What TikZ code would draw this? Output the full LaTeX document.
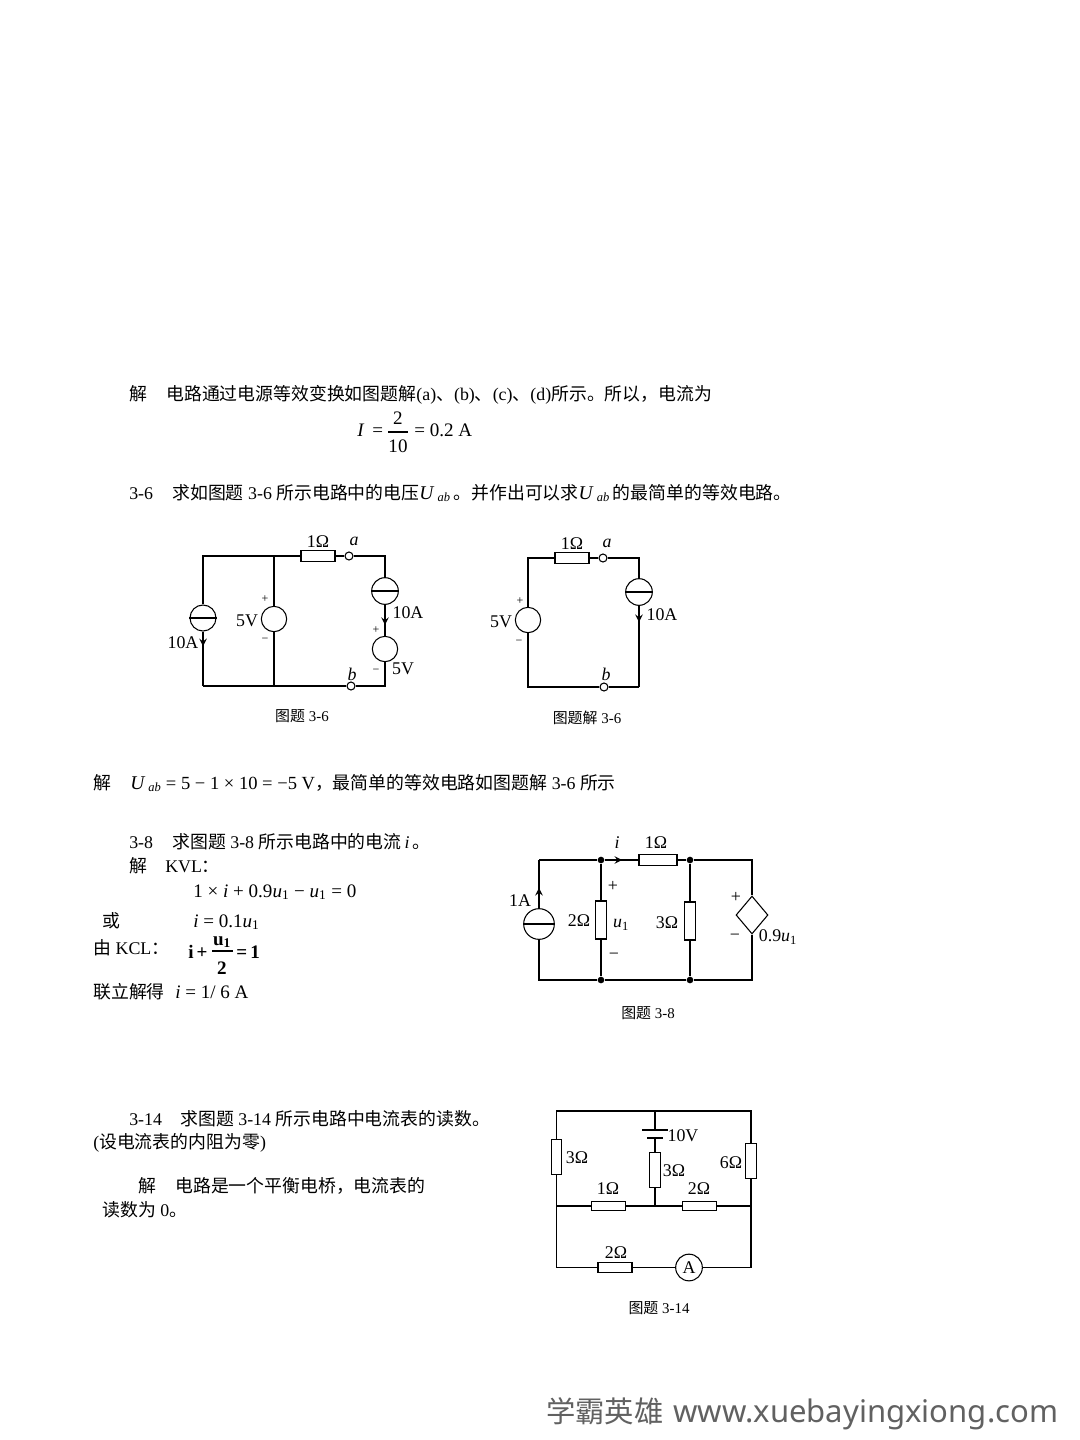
\documentclass[tikz,border=0pt]{standalone}
\usepackage{fontspec}
\setmainfont{Liberation Serif}
\newfontfamily\cjk{Noto Sans CJK SC}
\newfontfamily\wmfont{Noto Sans}
\usetikzlibrary{decorations.markings}
\usetikzlibrary{shapes.geometric}
\newcommand{\zh}[1]{{\cjk #1}}
\newcommand{\usub}{\textit{u}\textsubscript{1}}
\newcommand{\uab}{{\fontsize{14.6}{16}\selectfont\textit{U}}\,\textsubscript{\textit{ab}}}
\newcommand{\fsz}{\fontsize{13.4}{16}\selectfont}
\newcommand{\eqsz}{\fontsize{14.3}{16}\selectfont}
\tikzset{
	wire/.style={line width=0.8pt},
	wirearrow/.style={wire, postaction={decorate},
		decoration={markings, mark=at position #1 with {\arrow[scale=1.4]{>}}}},
	txt/.style={anchor=base west, inner sep=0pt, font=\fsz},
	eqn/.style={anchor=base west, inner sep=0pt, font=\eqsz},
	lbl/.style={inner sep=0pt, font=\fsz},
	figcap/.style={inner sep=0pt, font=\fontsize{11.2}{14}\selectfont},
	tinylbl/.style={inner sep=0pt, font=\fontsize{9}{9}\selectfont},
	resh/.style={draw, wire, rectangle, inner sep=0pt, minimum width=25.5pt, minimum height=8pt},
	resv/.style={draw, wire, rectangle, inner sep=0pt, minimum width=8pt, minimum height=26pt},
	srcnode/.style={draw, wire, circle, inner sep=0pt, font=\fsz, minimum size=#1},
	termnode/.style={draw, wire, circle, fill=white, inner sep=0pt, minimum size=6pt},
	dotnode/.style={fill, circle, inner sep=0pt, minimum size=5pt},
	plate/.style={fill, rectangle, inner sep=0pt, minimum width=#1, minimum height=1.8pt},
}
\begin{document}
\begin{tikzpicture}[x=0.75pt, y=-0.75pt, >=stealth]
	\useasboundingbox (0,0) rectangle (1080,1440);
	\fill[white] (0,0) rectangle (1080,1440);

	% text
	\node[txt] (jie1) at (129,400) {\zh{解}};
	\node[txt] (line1) at (166,400) {\zh{电路通过电源等效变换如图题解}(a)\zh{、}(b)\zh{、}(c)\zh{、}(d)\zh{所示。所以，电流为}};
	\node[eqn] (eqI) at (357,436) {\textit{I} \,=};
	\node[lbl, font=\eqsz] (eqnum) at (398,418) {2};
	\node[lbl, font=\eqsz] (eqden) at (398,446) {10};
	\coordinate (barL) at (388,432);
	\coordinate (barR) at (408,432);
	\draw[wire] (barL) -- (barR);
	\node[eqn] (eqA) at (414,436) {= 0.2 A};

	\node[txt] (no36) at (129,499) {3-6};
	\node[txt] (line36) at (172,499) {\zh{求如图题} 3-6 \zh{所示电路中的电压}\uab\,\zh{。并作出可以求}\uab\,\zh{的最简单的等效电路。}};

	\node[txt] (jie2) at (93,789) {\zh{解}};
	\node[txt] (line2) at (130,789) {\uab\ {\fontsize{13.9}{16}\selectfont = 5 − 1 × 10 = −5 V}\zh{，最简单的等效电路如图题解} 3-6 \zh{所示}};

	\node[txt] (no38) at (129,848) {3-8};
	\node[txt] (line38) at (172,848) {\zh{求图题} 3-8 \zh{所示电路中的电流}\,\textit{i}\,\zh{。}};
	\node[txt] (jie3) at (129,872) {\zh{解}};
	\node[txt] (kvl) at (165,872) {KVL\zh{：}};
	\node[eqn] (eq1) at (193,897) {1 × \textit{i} + 0.9\usub\ − \usub\ = 0};
	\node[txt] (huo) at (102,927) {\zh{或}};
	\node[eqn] (eq2) at (193,927) {\textit{i} = 0.1\usub};
	\node[txt] (kcl) at (93,954) {\zh{由} KCL\zh{：}};
	\node[eqn] (eq3a) at (188,958) {\textbf{i}\,\textbf{+}};
	\node[lbl, font=\eqsz, anchor=base] (eq3n) at (222,945) {\textbf{u\textsubscript{1}}};
	\node[lbl, font=\eqsz, anchor=base] (eq3d) at (222,974) {\textbf{2}};
	\coordinate (bar3L) at (212,951);
	\coordinate (bar3R) at (233,951);
	\draw[wire] (bar3L) -- (bar3R);
	\node[eqn] (eq3b) at (236,958) {\textbf{=\,1}};
	\node[txt] (lian) at (93,998) {\zh{联立解得}};
	\node[eqn] (eq4) at (175,998) {\textit{i} = 1/ 6 A};

	\node[txt] (no314) at (129,1125) {3-14};
	\node[txt] (line314) at (180,1125) {\zh{求图题} 3-14 \zh{所示电路中电流表的读数。}};
	\node[txt] (line314b) at (93,1148) {(\zh{设电流表的内阻为零})};
	\node[txt] (jie4) at (138,1192) {\zh{解}};
	\node[txt] (line4) at (175,1192) {\zh{电路是一个平衡电桥，电流表的}};
	\node[txt] (line4b) at (102,1216) {\zh{读数为} 0\zh{。}};

	% figure 3-6
	\coordinate (tl) at (203,556);
	\coordinate (tm) at (274,556);
	\coordinate (tr) at (385,556);
	\coordinate (bl) at (203,686);
	\coordinate (bm) at (274,686);
	\coordinate (br) at (385,686);
	\node[resh] (r1) at (318,556) {};
	\node[termnode] (a) at (349,556) {};
	\node[termnode] (b) at (351,686) {};
	\node[srcnode=19.5pt] (s1) at (203,618) {};
	\node[srcnode=19pt] (v1) at (274,619) {};
	\node[srcnode=20pt] (s2) at (385,591) {};
	\node[srcnode=19pt] (v2) at (385,649) {};
	\draw[wire] (s1.north) -- (tl) -- (tm) -- (r1.west);
	\draw[wire] (r1.east) -- (a);
	\draw[wire] (a) -- (tr) -- (s2.north);
	\draw[wire] (tm) -- (v1.north);
	\draw[wire] (v1.south) -- (bm);
	\draw[wire] (v2.south) -- (br) -- (b);
	\draw[wire] (b) -- (bl);
	\draw[wirearrow=0.27] (s1.south) -- (bl);
	\draw[wirearrow=0.65] (s2.south) -- (v2.north);
	\foreach \s in {s1,s2} {
		\draw[wire] (\s.west) -- (\s.east);
	}
	\node[lbl] (l1) at (318,542) {1Ω};
	\node[lbl] (la) at (354,541) {\textit{a}};
	\node[lbl] (lb) at (352,674) {\textit{b}};
	\node[lbl] (l10a) at (183,643) {10A};
	\node[lbl] (l5v) at (247,621) {5V};
	\node[lbl] (l10b) at (408,613) {10A};
	\node[lbl] (l5w) at (403,669) {5V};
	\node[tinylbl] (p1) at (265,599) {+};
	\node[tinylbl] (m1) at (265,640) {−};
	\node[tinylbl] (p2) at (376,630) {+};
	\node[tinylbl] (m2) at (376,671) {−};
	\node[figcap] (c36) at (302,716) {\zh{图题} 3-6};

	% solution figure
	\coordinate (xtl) at (528,558);
	\coordinate (xtr) at (639,558);
	\coordinate (xbl) at (528,687);
	\coordinate (xbr) at (639,687);
	\node[resh] (xr) at (572,558) {};
	\node[termnode] (xa) at (603,558) {};
	\node[termnode] (xb) at (604,687) {};
	\node[srcnode=20pt] (xs) at (639,592) {};
	\node[srcnode=19pt] (xv) at (528,620) {};
	\draw[wire] (xv.north) -- (xtl) -- (xr.west);
	\draw[wire] (xr.east) -- (xa);
	\draw[wire] (xa) -- (xtr) -- (xs.north);
	\draw[wirearrow=0.2] (xs.south) -- (xbr);
	\draw[wire] (xbr) -- (xb);
	\draw[wire] (xb) -- (xbl) -- (xv.south);
	\draw[wire] (xs.west) -- (xs.east);
	\node[lbl] (xl1) at (572,544) {1Ω};
	\node[lbl] (xla) at (607,543) {\textit{a}};
	\node[lbl] (xlb) at (606,674) {\textit{b}};
	\node[lbl] (xl5) at (501,622) {5V};
	\node[lbl] (xl10) at (662,615) {10A};
	\node[tinylbl] (xp) at (520,601) {+};
	\node[tinylbl] (xm) at (519,642) {−};
	\node[figcap] (cx) at (587,718) {\zh{图题解} 3-6};

	% figure 3-8
	\coordinate (ctl) at (539,860);
	\coordinate (ctr) at (752,860);
	\coordinate (cbl) at (539,980);
	\coordinate (cbr) at (752,980);
	\node[dotnode] (n1) at (601,860) {};
	\node[dotnode] (n2) at (690,860) {};
	\node[dotnode] (n3) at (601,980) {};
	\node[dotnode] (n4) at (690,980) {};
	\node[srcnode=23pt] (cs) at (539,924) {};
	\node[resh, minimum width=28.5pt] (cr1) at (658,860) {};
	\node[resv, minimum height=28.5pt] (cr2) at (601,920) {};
	\node[resv, minimum height=28.5pt] (cr3) at (690,921) {};
	\node[diamond, draw, wire, inner sep=0pt, minimum width=24pt, minimum height=28.5pt] (cd) at (752,915) {};
	\draw[wirearrow=0.42] (cs.north) -- (ctl);
	\draw[wire] (ctl) -- (n1);
	\draw[wirearrow=0.52] (n1) -- (cr1.west);
	\draw[wire] (cr1.east) -- (n2);
	\draw[wire] (n2) -- (ctr) -- (cd.north);
	\draw[wire] (cd.south) -- (cbr) -- (n4);
	\draw[wire] (n4) -- (n3);
	\draw[wire] (n3) -- (cbl) -- (cs.south);
	\draw[wire] (n1) -- (cr2.north);
	\draw[wire] (cr2.south) -- (n3);
	\draw[wire] (n2) -- (cr3.north);
	\draw[wire] (cr3.south) -- (n4);
	\draw[wire] (cs.west) -- (cs.east);
	\node[lbl] (ci) at (617,843) {\textit{i}};
	\node[lbl] (cl1) at (656,843) {1Ω};
	\node[lbl] (cp1) at (613,886) {+};
	\node[lbl] (cu) at (621,925) {\usub};
	\node[lbl] (cm1) at (614,956) {−};
	\node[lbl] (cl2) at (579,921) {2Ω};
	\node[lbl] (cl3) at (667,923) {3Ω};
	\node[lbl] (cp2) at (736,897) {+};
	\node[lbl] (cm2) at (735,937) {−};
	\node[lbl] (cl9) at (778,937) {0.9\usub};
	\node[lbl] (cla) at (520,901) {1A};
	\node[figcap] (c38) at (648,1013) {\zh{图题} 3-8};

	% figure 3-14
	\coordinate (dtl) at (556.5,1111);
	\coordinate (dtm) at (655,1111);
	\coordinate (dtr) at (751,1111);
	\coordinate (dml) at (556.5,1206);
	\coordinate (dmm) at (655,1206);
	\coordinate (dmr) at (751,1206);
	\coordinate (dbl) at (556.5,1267.5);
	\coordinate (dbr) at (751,1267.5);
	\node[resv] (dr1) at (556.5,1157) {};
	\node[resv] (dr2) at (751,1161) {};
	\node[resv] (dr3) at (655,1170) {};
	\node[resh, minimum height=7pt] (dr4) at (608.5,1206) {};
	\node[resh, minimum height=7pt] (dr5) at (699.5,1206) {};
	\node[resh, minimum height=7pt] (dr6) at (615,1267.5) {};
	\node[plate=19pt] (bat1) at (655,1130) {};
	\node[plate=12pt] (bat2) at (655,1138) {};
	\node[srcnode=20pt] (amm) at (689,1267.5) {A};
	\draw[wire] (dr1.north) -- (dtl) -- (dtm) -- (dtr) -- (dr2.north);
	\draw[wire] (dtm) -- (bat1);
	\draw[wire] (bat2) -- (dr3.north);
	\draw[wire] (dr3.south) -- (dmm);
	\draw[wire] (dr1.south) -- (dml) -- (dbl) -- (dr6.west);
	\draw[wire] (dr2.south) -- (dmr) -- (dbr) -- (amm.east);
	\draw[wire] (dr6.east) -- (amm.west);
	\draw[wire] (dml) -- (dr4.west);
	\draw[wire] (dr4.east) -- (dmm) -- (dr5.west);
	\draw[wire] (dr5.east) -- (dmr);
	\node[lbl] (dl10) at (683,1136) {10V};
	\node[lbl] (dl1) at (577,1158) {3Ω};
	\node[lbl] (dl2) at (674,1171) {3Ω};
	\node[lbl] (dl3) at (731,1163) {6Ω};
	\node[lbl] (dl4) at (608,1189) {1Ω};
	\node[lbl] (dl5) at (699,1189) {2Ω};
	\node[lbl] (dl6) at (616,1253) {2Ω};
	\node[figcap] (c314) at (659,1308) {\zh{图题} 3-14};

	% watermark
	\node[anchor=base west, inner sep=0pt, text=black!62, font=\fontsize{22}{26}\selectfont] (wm) at (546,1422) {\zh{学霸英雄}};
	\node[anchor=base west, inner sep=0pt, text=black!62, font=\wmfont\fontsize{23.3}{26}\selectfont] (wmurl) at (673,1422) {www.xuebayingxiong.com};
\end{tikzpicture}
\end{document}
